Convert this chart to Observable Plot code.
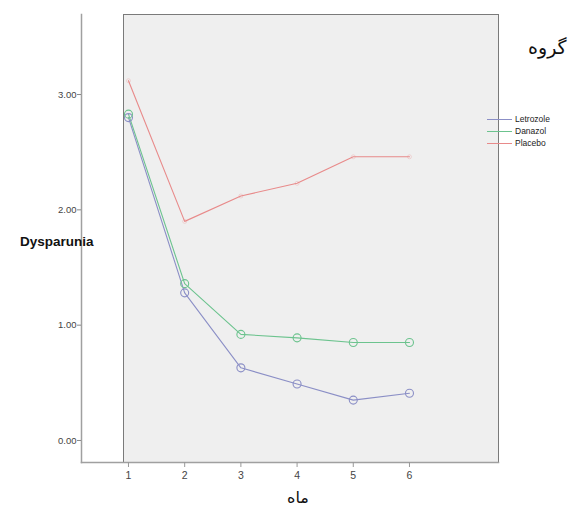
<!DOCTYPE html>
<html>
<head>
<meta charset="utf-8">
<script src="https://cdn.jsdelivr.net/npm/d3@7"></script>
<script src="https://cdn.jsdelivr.net/npm/@observablehq/plot@0.6"></script>
<style>
  body { margin: 0; background: #fff; }
  #wrap { position: relative; width: 568px; height: 513px; font-family: "Liberation Sans", Arial, sans-serif; }
  .lbl { position: absolute; white-space: nowrap; }
  #ylab { left: 20px; top: 234px; font-size: 13.5px; font-weight: bold; color: #111; }
  #xlab { left: 287px; top: 488px; font-size: 16px; color: #111; font-family: "DejaVu Sans", sans-serif; }
  #legtitle { left: 528px; top: 36px; font-size: 19px; color: #111; font-family: "DejaVu Sans", sans-serif; }
  #legend { left: 487px; top: 113px; font-size: 8.5px; color: #222; line-height: 12px; }
  #legend .sw { display: inline-block; width: 25px; height: 0; border-top: 1.2px solid; vertical-align: middle; margin-right: 3px; }
</style>
</head>
<body>
<div id="wrap">
  <div id="chart"></div>
  <div class="lbl" id="ylab">Dysparunia</div>
  <div class="lbl" id="xlab">ماه</div>
  <div class="lbl" id="legtitle">گروه</div>
  <div class="lbl" id="legend"></div>
</div>
<script>
const months = [1, 2, 3, 4, 5, 6];
const groups = ["Letrozole", "Danazol", "Placebo"];
const colors = ["#8b8fc6", "#6cc38e", "#e88a8a"];
const letrozole = [2.80, 1.28, 0.63, 0.49, 0.35, 0.41];
const danazol = [2.83, 1.36, 0.92, 0.89, 0.85, 0.85];
const placebo = [3.12, 1.90, 2.12, 2.23, 2.46, 2.46];
const yTicks = [0, 1, 2, 3];
const xLabel = "ماه";
const yLabel = "Dysparunia";
const legendTitle = "گروه";

const series = [letrozole, danazol, placebo];
const data = [];
groups.forEach((g, i) => months.forEach((m, j) => data.push({group: g, month: m, value: series[i][j]})));

const chart = Plot.plot({
  width: 568,
  height: 513,
  marginLeft: 81,
  marginRight: 70,
  marginTop: 14,
  marginBottom: 51,
  style: {fontFamily: "Liberation Sans, Arial, sans-serif", background: "#fff"},
  x: {domain: [0.164, 7.584], axis: null, label: null},
  y: {domain: [-0.191, 3.694], axis: null, label: null},
  color: {domain: groups, range: colors},
  marks: [
    Plot.frame({fill: "#efefef", stroke: "#7a7a7a", insetLeft: 42}),
    Plot.frame({anchor: "left", stroke: "#a0a0a0", strokeWidth: 1.5}),
    Plot.frame({anchor: "bottom", stroke: "#a0a0a0", strokeWidth: 1.5}),
    Plot.axisY({ticks: yTicks, tickFormat: d3.format(".2f"), tickSize: 4, tickPadding: 1, fontSize: 9.5, stroke: "#888", fill: "#444", label: null}),
    Plot.axisX({ticks: months, tickFormat: d => d, tickSize: 5, tickPadding: 4, fontSize: 10.5, stroke: "#999", fill: "#444", label: null}),
    Plot.line(data, {x: "month", y: "value", z: "group", stroke: "group", strokeWidth: 1.1}),
    Plot.dot(data.filter(d => d.group !== "Placebo"), {x: "month", y: "value", stroke: "group", r: 4, strokeWidth: 1.1}),
    Plot.dot(data.filter(d => d.group === "Placebo"), {x: "month", y: "value", stroke: "group", r: 2, strokeWidth: 0.8, strokeOpacity: 0.35})
  ]
});
document.getElementById("chart").appendChild(chart);

const leg = document.getElementById("legend");
groups.forEach((g, i) => {
  const row = document.createElement("div");
  row.innerHTML = `<span class="sw" style="border-color:${colors[i]}"></span>${g}`;
  leg.appendChild(row);
});
</script>
</body>
</html>
